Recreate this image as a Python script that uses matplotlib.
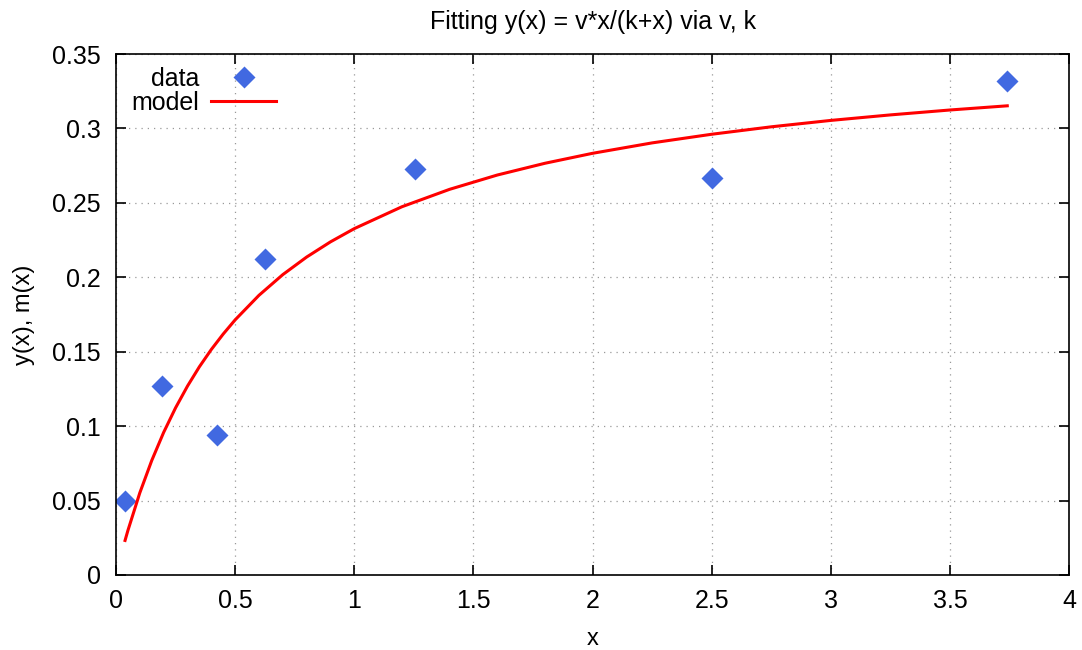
import matplotlib.pyplot as plt

plt.rcParams['font.family'] = ['Liberation Sans', 'DejaVu Sans']

# measured points
data_x = [0.038, 0.194, 0.425, 0.626, 1.253, 2.5, 3.74]
data_y = [0.050, 0.127, 0.094, 0.2122, 0.2729, 0.2665, 0.3317]

# fitted model curve
model_x = [0.038, 0.05, 0.1, 0.15, 0.2, 0.25, 0.3, 0.35, 0.4, 0.45, 0.5, 0.6,
           0.7, 0.8, 0.9, 1.0, 1.2, 1.4, 1.6, 1.8, 2.0, 2.25, 2.5, 2.75,
           3.0, 3.25, 3.5, 3.74]
model_y = [0.0232, 0.0299, 0.0552, 0.0769, 0.0958, 0.1123, 0.1269, 0.1399,
           0.1515, 0.1619, 0.1714, 0.1879, 0.2018, 0.2136, 0.2238, 0.2327,
           0.2474, 0.2591, 0.2687, 0.2766, 0.2833, 0.2903, 0.2961, 0.3011,
           0.3054, 0.3091, 0.3124, 0.3152]

fig = plt.figure(figsize=(10.82, 6.5), dpi=100)
ax = fig.add_axes([0.1072, 0.1154, 0.881, 0.8015])

ax.plot(data_x, data_y, 'D', color='#4169e1', ms=11, mec='none', label='data')
ax.plot(model_x, model_y, '-', color='red', lw=2.2, label='model')

ax.set_xlim(0, 4)
ax.set_ylim(0, 0.35)
ax.set_xticks([0, 0.5, 1, 1.5, 2, 2.5, 3, 3.5, 4])
ax.set_xticklabels(['0', '0.5', '1', '1.5', '2', '2.5', '3', '3.5', '4'])
ax.set_yticks([0, 0.05, 0.1, 0.15, 0.2, 0.25, 0.3, 0.35])
ax.set_yticklabels(['0', '0.05', '0.1', '0.15', '0.2', '0.25', '0.3', '0.35'])
ax.tick_params(direction='in', top=True, right=True, length=7, width=1.2,
               labelsize=18)
ax.tick_params(axis='x', pad=10)
ax.tick_params(axis='y', pad=11)
for s in ax.spines.values():
    s.set_linewidth(1.2)
ax.grid(True, linestyle=(0, (1, 4)), color='#999999', lw=0.9)

ax.set_xlabel('x', fontsize=17, labelpad=11)
ax.set_ylabel('y(x), m(x)', fontsize=17, labelpad=12)
ax.set_title('Fitting y(x) = v*x/(k+x) via v, k', fontsize=18, pad=18)

leg = ax.legend(loc='upper left', frameon=False, fontsize=18, markerfirst=False,
                handlelength=2.6, handletextpad=0.5, labelspacing=0.0,
                borderaxespad=0.0, borderpad=0.0, bbox_to_anchor=(0.016, 0.975))

fig.savefig('out.png')
